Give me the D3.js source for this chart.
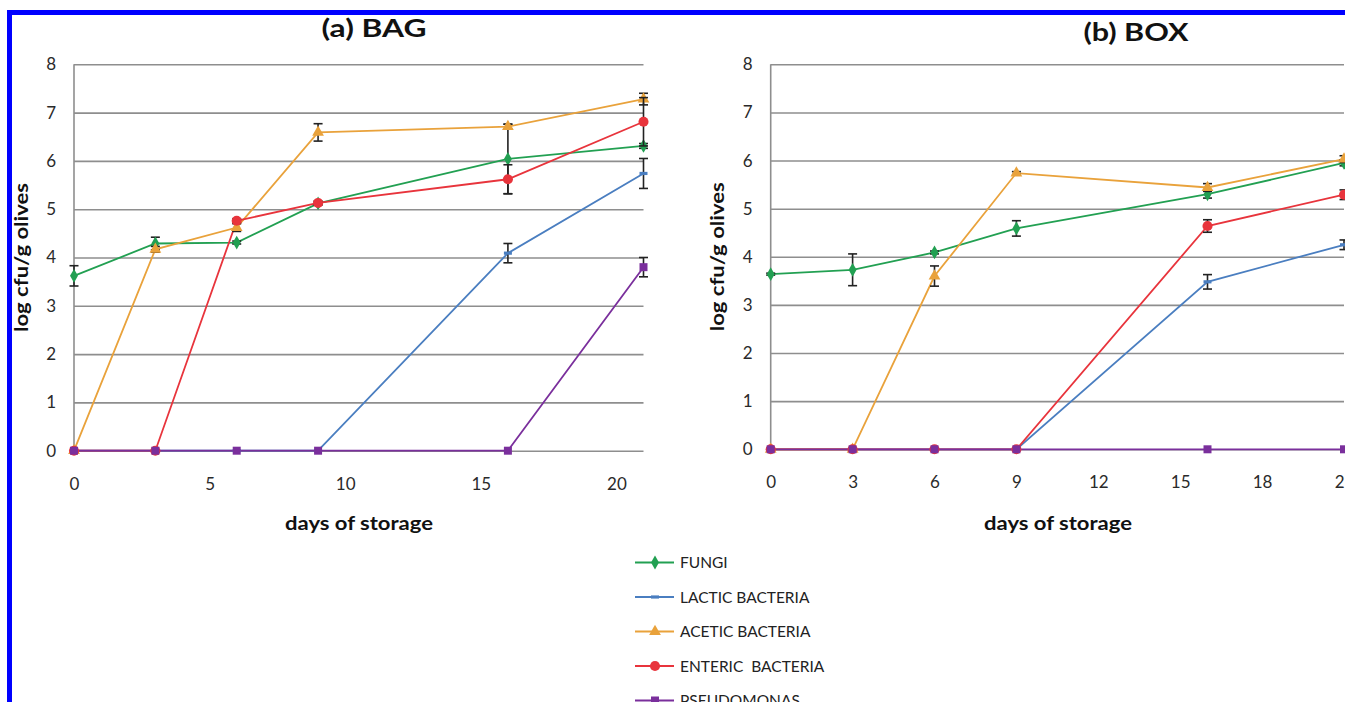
<!DOCTYPE html>
<html><head><meta charset="utf-8">
<script src="https://cdn.jsdelivr.net/npm/d3@7"></script>
<style>
html,body{margin:0;padding:0;background:#fff;overflow:hidden;}
text{font-family:Lato,"Open Sans",sans-serif;}
</style></head>
<body>
<svg id="c" width="1345" height="702"></svg>
<script>
// ---------- data ----------
const days = [0, 3, 6, 9, 16, 21];
const seriesNames = ["FUNGI", "LACTIC BACTERIA", "ACETIC BACTERIA", "ENTERIC  BACTERIA", "PSEUDOMONAS"];
const seriesColors = ["#22a052", "#4a7ec0", "#e9a23b", "#e8343c", "#7a2f9c"];
const seriesMarkers = ["diamond", "dash", "triangle", "circle", "square"];

// (a) BAG
const bagFungi = [3.62, 4.29, 4.31, 5.12, 6.04, 6.31];
const bagFungiErr = [0.21, 0.13, 0.03, 0.03, 0.72, 0.05];
const bagLactic = [0, 0, 0, 0, 4.09, 5.74];
const bagLacticErr = [0, 0, 0, 0, 0.2, 0.31];
const bagAcetic = [0, 4.17, 4.62, 6.59, 6.71, 7.28];
const bagAceticErr = [0, 0.06, 0.08, 0.18, 0.05, 0.12];
const bagEnteric = [0, 0, 4.76, 5.13, 5.62, 6.81];
const bagEntericErr = [0, 0, 0.04, 0.04, 0.3, 0.5];
const bagPseudo = [0, 0, 0, 0, 0, 3.8];
const bagPseudoErr = [0, 0, 0, 0, 0, 0.2];

// (b) BOX
const boxFungi = [3.64, 3.73, 4.09, 4.59, 5.3, 5.95];
const boxFungiErr = [0.02, 0.33, 0.03, 0.16, 0.08, 0.06];
const boxLactic = [0, 0, 0, 0, 3.48, 4.25];
const boxLacticErr = [0, 0, 0, 0, 0.15, 0.1];
const boxAcetic = [0, 0, 3.6, 5.74, 5.44, 6.03];
const boxAceticErr = [0, 0, 0.21, 0.03, 0.08, 0.07];
const boxEnteric = [0, 0, 0, 0, 4.64, 5.29];
const boxEntericErr = [0, 0, 0, 0, 0.13, 0.1];
const boxPseudo = [0, 0, 0, 0, 0, 0];
const boxPseudoErr = [0, 0, 0, 0, 0, 0];

const yTicks = [0, 1, 2, 3, 4, 5, 6, 7, 8];
const bagXTicks = [0, 5, 10, 15, 20];
const boxXTicks = [0, 3, 6, 9, 12, 15, 18, 21];

// ---------- drawing ----------
const svg = d3.select("#c");

function markerPath(type) {
  const sym = {
    diamond: d3.symbol(d3.symbolDiamond, 55),
    triangle: d3.symbol(d3.symbolTriangle, 60),
    circle: d3.symbol(d3.symbolCircle, 80),
    square: d3.symbol(d3.symbolSquare, 64)
  };
  if (type === "dash") return "M-4,-1.6H4V1.6H-4Z";
  return sym[type]();
}

function panel(cfg) {
  const g = svg.append("g");
  const x = d3.scaleLinear().domain([0, 21]).range(cfg.xr);
  const y = d3.scaleLinear().domain([0, 8]).range(cfg.yr);
  const w = cfg.xr[1] - cfg.xr[0];

  // grid + y labels
  const ya = g.append("g").attr("transform", `translate(${cfg.xr[0]},0)`)
    .call(d3.axisLeft(y).tickValues(yTicks).tickSize(-w).tickPadding(18).tickFormat(d3.format("d")));
  ya.select(".domain").remove();
  ya.selectAll(".tick line").attr("stroke", "#8e8e8e").attr("stroke-width", 1.6);
  ya.selectAll(".tick text").attr("fill", "#2a2a2a").style("font-size", "17px").attr("font-family", "Lato");
  // y axis line
  g.append("line").attr("x1", cfg.xr[0]).attr("x2", cfg.xr[0])
    .attr("y1", y(0)).attr("y2", y(8)).attr("stroke", "#8e8e8e").attr("stroke-width", 1.6);

  // x labels
  const xa = g.append("g").attr("transform", `translate(0,${y(0)})`)
    .call(d3.axisBottom(x).tickValues(cfg.xTicks).tickSize(0).tickPadding(27).tickFormat(d3.format("d")));
  xa.select(".domain").remove();
  xa.selectAll(".tick text").attr("fill", "#2a2a2a").style("font-size", "17px").attr("font-family", "Lato");

  // titles
  g.append("text").attr("x", cfg.titleX).attr("y", cfg.titleY).attr("text-anchor", "middle")
    .attr("textLength", 105).attr("lengthAdjust", "spacingAndGlyphs")
    .style("font-size", "25px").style("font-weight", "bold").attr("fill", "#111").text(cfg.title);
  g.append("text").attr("x", cfg.xTitleX).attr("y", 530).attr("text-anchor", "middle")
    .attr("textLength", 148).attr("lengthAdjust", "spacingAndGlyphs")
    .style("font-size", "19px").style("font-weight", "bold").attr("fill", "#111").text("days of storage");
  g.append("text").attr("transform", `translate(${cfg.yTitleX},${(cfg.yr[0] + cfg.yr[1]) / 2}) rotate(-90)`)
    .attr("text-anchor", "middle").attr("dy", "0.35em")
    .attr("textLength", 149).attr("lengthAdjust", "spacingAndGlyphs")
    .style("font-size", "19px").style("font-weight", "bold").attr("fill", "#111").text("log cfu/g olives");

  const line = d3.line().x((d, i) => x(days[i])).y(d => y(d));
  cfg.series.forEach((s, k) => {
    const col = seriesColors[k];
    g.append("path").attr("d", line(s.v)).attr("fill", "none")
      .attr("stroke", col).attr("stroke-width", 1.8);
  });
  cfg.series.forEach((s, k) => {
    const col = seriesColors[k];
    // error bars
    s.v.forEach((v, i) => {
      const e = s.e[i];
      if (!e) return;
      const cx = x(days[i]);
      const eg = g.append("g").attr("stroke", "#222").attr("stroke-width", 1.6);
      eg.append("line").attr("x1", cx).attr("x2", cx).attr("y1", y(v - e)).attr("y2", y(v + e));
      eg.append("line").attr("x1", cx - 4.5).attr("x2", cx + 4.5).attr("y1", y(v - e)).attr("y2", y(v - e));
      eg.append("line").attr("x1", cx - 4.5).attr("x2", cx + 4.5).attr("y1", y(v + e)).attr("y2", y(v + e));
    });
    // markers
    g.selectAll(null).data(s.v).enter().append("path")
      .attr("d", markerPath(seriesMarkers[k]))
      .attr("transform", (d, i) => `translate(${x(days[i])},${y(d)})`)
      .attr("fill", col);
  });
}

panel({
  title: "(a) BAG", titleX: 374, titleY: 37, xTitleX: 359, yTitleX: 21,
  xr: [74, 643.5], yr: [450.7, 64.3], xTicks: bagXTicks,
  series: [
    { v: bagFungi, e: bagFungiErr },
    { v: bagLactic, e: bagLacticErr },
    { v: bagAcetic, e: bagAceticErr },
    { v: bagEnteric, e: bagEntericErr },
    { v: bagPseudo, e: bagPseudoErr }
  ]
});
panel({
  title: "(b) BOX", titleX: 1136, titleY: 41, xTitleX: 1058, yTitleX: 717,
  xr: [770.7, 1344], yr: [449.3, 64.3], xTicks: boxXTicks,
  series: [
    { v: boxFungi, e: boxFungiErr },
    { v: boxLactic, e: boxLacticErr },
    { v: boxAcetic, e: boxAceticErr },
    { v: boxEnteric, e: boxEntericErr },
    { v: boxPseudo, e: boxPseudoErr }
  ]
});

// legend
const lg = svg.append("g");
seriesNames.forEach((n, i) => {
  const yy = 562.5 + i * 34.5;
  lg.append("line").attr("x1", 635).attr("x2", 674).attr("y1", yy).attr("y2", yy)
    .attr("stroke", seriesColors[i]).attr("stroke-width", 1.8);
  lg.append("path").attr("d", markerPath(seriesMarkers[i]))
    .attr("transform", `translate(655,${yy})`).attr("fill", seriesColors[i]);
  lg.append("text").attr("x", 680).attr("y", yy).attr("dy", "0.36em")
    .style("font-size", "15.5px").attr("fill", "#222").style("white-space", "pre")
    .attr("xml:space", "preserve").text(n);
});

// blue frame
svg.append("rect").attr("x", 9.5).attr("y", 12.5).attr("width", 1400).attr("height", 800)
  .attr("fill", "none").attr("stroke", "#0000ff").attr("stroke-width", 5);
</script>
</body></html>
